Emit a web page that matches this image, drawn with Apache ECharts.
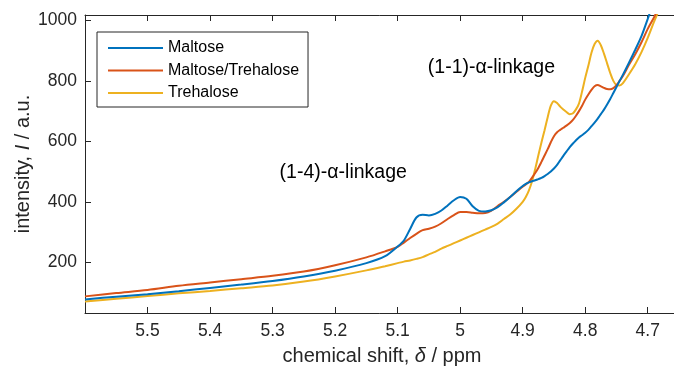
<!DOCTYPE html>
<html>
<head>
<meta charset="utf-8">
<script src="https://cdn.jsdelivr.net/npm/echarts@6/dist/echarts.min.js"></script>
<style>
html,body{margin:0;padding:0;background:#fff;}
#chart{width:674px;height:373px;}
</style>
</head>
<body>
<div id="chart"></div>
<script>
// chemical shift (ppm)
var ppm = [5.60,5.55,5.50,5.45,5.40,5.35,5.30,5.25,5.20,5.15,
  5.12,5.10,5.09,5.08,5.07,5.06,5.05,5.04,5.03,5.02,
  5.01,5.00,4.99,4.98,4.97,4.96,4.95,4.94,4.93,4.92,
  4.91,4.90,4.895,4.89,4.885,4.88,4.875,4.87,4.865,4.86,
  4.855,4.85,4.845,4.84,4.835,4.83,4.825,4.82,4.815,4.81,
  4.805,4.80,4.795,4.79,4.785,4.78,4.775,4.77,4.765,4.76,
  4.755,4.75,4.745,4.74,4.73,4.72,4.71,4.70,4.69,4.68,
  4.67,4.66,4.65];
var maltose = [77,86,94,104,115,126,138,153,172,197,
  220,252,272,310,348,357,355,360,371,388,
  405,416,410,385,370,368,372,382,398,416,
  435,452,459,464,468,471,475,479,485,492,
  500,510,522,537,552,566,580,592,603,613,
  620,628,638,650,662,675,690,705,722,740,
  760,780,800,819,860,903,948,1005,1065,1125,
  1190,1255,1320];
var mixture = [87,98,108,122,133,144,155,169,190,216,
  236,251,265,280,294,306,311,318,329,343,
  356,366,366,364,362,363,371,386,400,416,
  433,450,457,466,480,495,512,532,553,574,
  597,617,630,638,645,652,660,670,684,700,
  718,738,755,770,782,786,782,777,773,772,
  776,786,800,815,853,888,928,972,1010,1055,
  1110,1170,1230];
var trehalose = [70,79,88,97,105,114,123,136,153,173,
  187,197,202,206,211,217,226,234,245,254,
  263,272,281,290,299,308,317,328,343,358,
  377,400,416,438,468,508,553,596,637,680,
  718,733,727,715,705,697,690,692,705,725,
  765,810,850,893,922,933,918,890,858,826,
  800,786,785,792,822,855,895,942,995,1045,
  1100,1160,1220];
var seriesNames = ['Maltose','Maltose/Trehalose','Trehalose'];
var xTicks = [5.5,5.4,5.3,5.2,5.1,5.0,4.9,4.8,4.7];
var yTicks = [200,400,600,800,1000];
var annoText = ['(1-1)-\u03b1-linkage','(1-4)-\u03b1-linkage'];
var annoX = [4.950, 5.187];
var annoY = [843, 495];

var FONT = "'Liberation Sans', Arial, Helvetica, sans-serif";
var AX = '#262626';
var colors = ['#0072BD','#D95319','#EDB120'];

function pairs(xs, ys){ return xs.map(function(x,i){ return [x, ys[i]]; }); }

var chart = echarts.init(document.getElementById('chart'), null, {renderer:'canvas'});
var lineSeries = [maltose, mixture, trehalose].map(function(vals, i){
  return {
    name: seriesNames[i], type:'line', data: pairs(ppm, vals),
    symbol:'none', showSymbol:false, smooth:0.3, clip:true,
    lineStyle:{width:2, color:colors[i]}, itemStyle:{color:colors[i]},
    emphasis:{disabled:true}, silent:true, z: 3 + (2 - i)
  };
});
var annoSeries = {
  name:'annotations', type:'scatter', silent:true,
  data: annoText.map(function(t,i){ return {value:[annoX[i], annoY[i]], name:t}; }),
  symbolSize:1, itemStyle:{color:'#ffffff', opacity:0},
  label:{show:true, position:'inside', formatter:function(p){return p.name;},
    fontFamily:FONT, fontSize:19.5, color:'#000', opacity:1,
    textBorderWidth:0, textShadowBlur:0},
  z:10
};

var option = {
  animation:false,
  backgroundColor:'#fff',
  grid:{left:85, right:-5, top:15, bottom:60, containLabel:false, outerBoundsMode:'none'},
  legend:{
    data: seriesNames.map(function(n){ return {name:n, icon:'rect'}; }),
    orient:'vertical', left:97, top:32,
    padding:[5,9,3,11], itemWidth:55, itemHeight:2, itemGap:0.5,
    borderColor:AX, borderWidth:1, backgroundColor:'#fff',
    textStyle:{fontFamily:FONT, fontSize:16, color:'#000', lineHeight:22},
    selectedMode:false
  },
  xAxis:[{
    type:'value', inverse:true, min:4.65, max:5.6, position:'bottom',
    axisLine:{show:true, onZero:false, lineStyle:{color:AX, width:1}},
    axisTick:{show:true, inside:true, length:6, lineStyle:{color:AX}, customValues:xTicks},
    axisLabel:{show:true, margin:9, color:AX, fontFamily:FONT, fontSize:17.5, customValues:xTicks,
      formatter:function(v){ return String(Math.round(v*10)/10); }},
    splitLine:{show:false},
    name:'chemical shift, {i|\u03b4} / ppm', nameLocation:'middle', nameGap:33, nameMoveOverlap:false,
    nameTextStyle:{fontFamily:FONT, fontSize:20, color:AX,
      rich:{i:{fontStyle:'italic', fontFamily:FONT, fontSize:20, color:AX}}}
  },{
    type:'value', inverse:true, min:4.65, max:5.6, position:'top',
    axisLine:{show:true, onZero:false, lineStyle:{color:AX, width:1}},
    axisTick:{show:true, inside:true, length:6, lineStyle:{color:AX}, customValues:xTicks},
    axisLabel:{show:false}, splitLine:{show:false}
  }],
  yAxis:[{
    type:'value', min:32, max:1018, position:'left',
    axisLine:{show:true, onZero:false, lineStyle:{color:AX, width:1}},
    axisTick:{show:true, inside:true, length:6, lineStyle:{color:AX}, customValues:yTicks},
    axisLabel:{show:true, margin:8, color:AX, fontFamily:FONT, fontSize:17.5, customValues:yTicks,
      formatter:function(v){ return String(v); }},
    splitLine:{show:false},
    name:'intensity, {i|I} / a.u.', nameLocation:'middle', nameGap:52, nameRotate:90, nameMoveOverlap:false,
    nameTextStyle:{fontFamily:FONT, fontSize:20, color:AX,
      rich:{i:{fontStyle:'italic', fontFamily:FONT, fontSize:20, color:AX}}}
  }],
  series: lineSeries.concat([annoSeries])
};
chart.setOption(option);
</script>
</body>
</html>
